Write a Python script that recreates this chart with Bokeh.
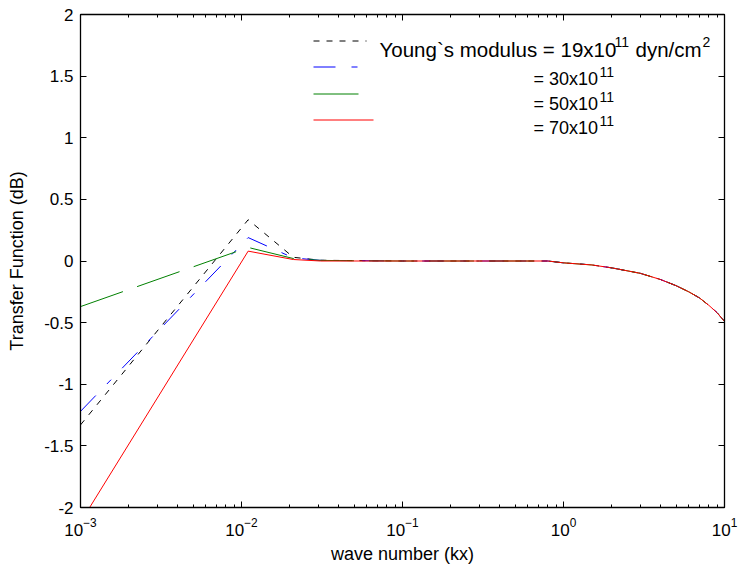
from bokeh.plotting import figure
from bokeh.models import (Range1d, LinearScale, LogAxis, LinearAxis, LogTicker,
                          FixedTicker, CustomJSTickFormatter, Label, LogTickFormatter)
from bokeh.embed import file_html
from bokeh.resources import INLINE

# ---------------- data ----------------
wave_number = [0.001, 0.011, 0.021, 0.031, 0.05, 0.1, 0.3, 0.8,
               1.0, 1.5, 2.0, 3.0, 4.0, 5.0, 6.0, 7.0, 8.0, 9.0, 10.0]
tf_19 = [-1.33, 0.335, 0.03, 0.006, 0.003, 0.0, 0.0, 0.0,
         -0.015, -0.032, -0.056, -0.10, -0.15, -0.20, -0.25, -0.30, -0.36, -0.42, -0.49]
tf_30 = [-1.22, 0.19, 0.025, 0.005, 0.003, 0.0, 0.0, 0.0,
         -0.015, -0.032, -0.056, -0.10, -0.15, -0.20, -0.25, -0.30, -0.36, -0.42, -0.49]
tf_50 = [-0.37, 0.11, 0.02, 0.005, 0.002, 0.0, 0.0, 0.0,
         -0.015, -0.032, -0.056, -0.10, -0.15, -0.20, -0.25, -0.30, -0.36, -0.42, -0.49]
tf_70 = [-2.12, 0.08, 0.012, 0.0, 0.0, 0.0, 0.0, 0.0,
         -0.015, -0.032, -0.056, -0.10, -0.15, -0.20, -0.25, -0.30, -0.36, -0.42, -0.49]

legend_base = ["Young`s modulus = 19x10", "= 30x10", "= 50x10", "= 70x10"]
legend_exp = ["11", "11", "11", "11"]
legend_unit = "dyn/cm"
legend_unit_exp = "2"
y_ticks = [-2, -1.5, -1, -0.5, 0, 0.5, 1, 1.5, 2]
x_label = "wave number (kx)"
y_label = "Transfer Function (dB)"

# ---------------- styles ----------------
colors = ["#000000", "#0000ff", "#008000", "#ff0000"]
dashes = ["6 7", "22 16 6 16", "45 15", "solid"]
FONT = "Liberation Sans"

# frame in page pixels
FL, FR, FT, FB = 80, 724, 14, 507
W, H = 739, 569

p = figure(width=W, height=H, x_axis_type="log",
           x_range=Range1d(1e-3, 10), y_range=Range1d(-2, 2),
           output_backend="svg", toolbar_location=None,
           min_border_left=FL, min_border_right=W - FR,
           min_border_top=FT, min_border_bottom=H - FB)
p.xgrid.visible = False
p.ygrid.visible = False
p.outline_line_color = "black"
p.outline_line_width = 1
p.background_fill_color = "white"
p.border_fill_color = "white"

# pixel-like helper ranges for the legend
p.extra_x_ranges = {"px": Range1d(FL, FR)}
p.extra_x_scales = {"px": LinearScale()}
p.extra_y_ranges = {"px": Range1d(FB, FT)}
p.extra_y_scales = {"px": LinearScale()}

for ys, c, d in zip([tf_19, tf_30, tf_50, tf_70], colors, dashes):
    p.line(wave_number, ys, line_color=c, line_width=1, line_dash=d)

# ---------------- axes ----------------
def style_axis(ax, labels=True):
    ax.major_tick_in = 6
    ax.major_tick_out = 0
    ax.minor_tick_in = 3
    ax.minor_tick_out = 0
    ax.axis_line_color = "black"
    ax.axis_line_width = 1.3
    ax.major_tick_line_color = "black"
    ax.minor_tick_line_color = "black"
    ax.major_label_text_font = FONT
    ax.major_label_text_font_size = "17px"
    ax.major_label_text_color = "black"
    ax.axis_label_text_font = FONT
    ax.axis_label_text_font_size = "18px"
    ax.axis_label_text_font_style = "normal"
    ax.axis_label_text_color = "black"
    if not labels:
        ax.major_label_text_font_size = "1px"
        ax.major_label_text_alpha = 0
        ax.major_label_standoff = 0

xax = p.xaxis[0]
xax.ticker = LogTicker(desired_num_ticks=5, num_minor_ticks=10)
xax.formatter = LogTickFormatter(min_exponent=0)
style_axis(xax)
xax.axis_label = x_label
xax.major_label_standoff = 10
xax.axis_label_standoff = 5

yax = p.yaxis[0]
yax.ticker = FixedTicker(ticks=y_ticks, minor_ticks=[])
yax.formatter = CustomJSTickFormatter(code="return String(tick);")
style_axis(yax)
yax.axis_label = y_label
yax.major_label_standoff = 7
yax.axis_label_standoff = 14

top = LogAxis(ticker=LogTicker(desired_num_ticks=5, num_minor_ticks=10))
style_axis(top, labels=False)
p.add_layout(top, "above")
right = LinearAxis(ticker=FixedTicker(ticks=y_ticks, minor_ticks=[]))
style_axis(right, labels=False)
p.add_layout(right, "right")

# ---------------- legend (drawn by hand, page-pixel layout) ----------------
leg_x0 = [313, 313, 313, 313]
leg_x1 = [366, 359, 359, 373]
leg_line_y = [40.5, 66.5, 93.5, 119.5]
for i in range(4):
    p.segment(x0=[leg_x0[i]], y0=[leg_line_y[i]], x1=[leg_x1[i]], y1=[leg_line_y[i]],
              x_range_name="px", y_range_name="px",
              line_color=colors[i], line_width=1, line_dash=dashes[i])

def put(text, x, y, size):
    p.add_layout(Label(x=x, y=y, x_range_name="px", y_range_name="px",
                       text=text, text_font=FONT, text_font_size=size,
                       text_color="black", text_baseline="alphabetic", text_align="left"))

base_x = [379, 533, 533, 533]
base_size = ["20.5px", "18px", "18px", "18px"]
baseline_y = [48.5, 78.5, 103.5, 127.5]
exp_x = [614, 599, 599, 599]
for i in range(4):
    put(legend_base[i], base_x[i], baseline_y[i], base_size[i])
    put(legend_exp[i], exp_x[i], baseline_y[i] - 7, "14px")
put(legend_unit, 635, baseline_y[0], "20.5px")
put(legend_unit_exp, 702, baseline_y[0] - 7, "14px")

open("out.html", "w").write(file_html(p, INLINE))
